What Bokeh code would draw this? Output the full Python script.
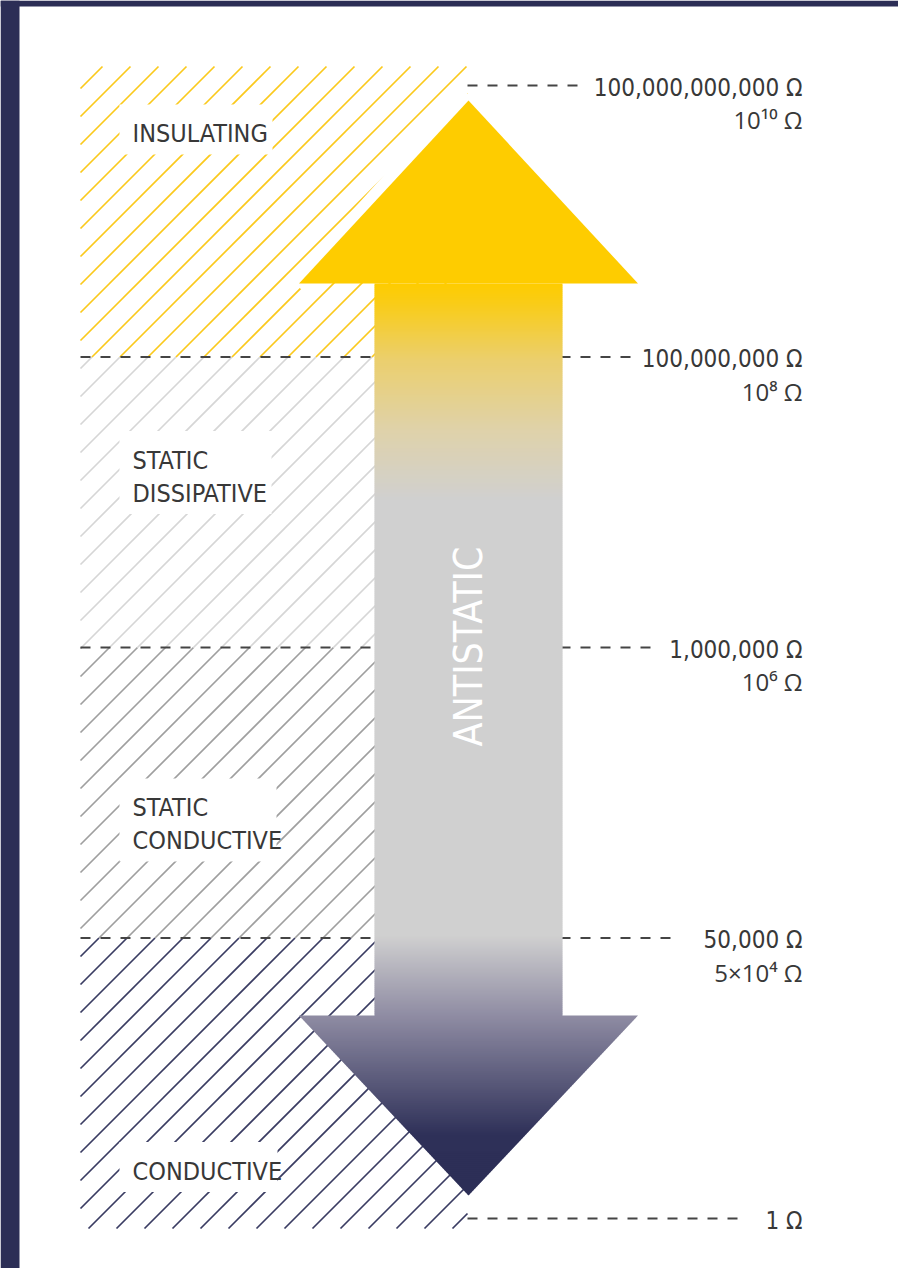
import numpy as np
from bokeh.plotting import figure
from bokeh.models import Range1d
from bokeh.core.properties import value
from bokeh.embed import file_html
from bokeh.resources import INLINE

# ---------------- data ----------------
# resistance bands, bottom to top
band_names = ["CONDUCTIVE", "STATIC CONDUCTIVE", "STATIC DISSIPATIVE", "INSULATING"]
band_label_lines = [["CONDUCTIVE"], ["STATIC", "CONDUCTIVE"], ["STATIC", "DISSIPATIVE"], ["INSULATING"]]
band_colors = ["#3a3c62", "#9f9f9f", "#d6d6d6", "#fbc91c"]
# thresholds, bottom to top
level_index = [0, 1, 2, 3, 4]
ohm_labels = ["1 Ω", "50,000 Ω", "1,000,000 Ω", "100,000,000 Ω", "100,000,000,000 Ω"]
sci_labels = ["", "5×10⁴ Ω", "10⁶ Ω", "10⁸ Ω", "10¹⁰ Ω"]
arrow_label = "ANTISTATIC"

# ---------------- layout (page pixels) ----------------
W, H = 898, 1268
BASE, BAND_H = 1228, 290.5
X0, X1 = 80, 467
HATCH_STEP = 28
NAVY = "#2c2e56"
TXT = "#383838"
NARROW = "DejaVu Sans Condensed, Liberation Sans Narrow, Roboto Condensed, Roboto, sans-serif"
TSHIFT = -9   # renderer places alphabetic baseline slightly low

p = figure(width=W, height=H, x_range=Range1d(0, W), y_range=Range1d(H, 0),
           output_backend="svg", toolbar_location=None, min_border=0,
           background_fill_color="white", border_fill_color="white", outline_line_color=None)
p.axis.visible = False
p.xgrid.visible = False
p.ygrid.visible = False

# navy frame strips (left and top)
p.quad(left=[0], right=[19], top=[0], bottom=[H], fill_color=NAVY, line_color=None)
p.quad(left=[0], right=[W], top=[0], bottom=[6], fill_color=NAVY, line_color=None)


def band_top(i):
    return BASE - BAND_H * (i + 1)


def band_bot(i):
    return BASE - BAND_H * i


# hatch lines (x + y = c in page coords)
for i, col in enumerate(band_colors):
    t, b = band_top(i), band_bot(i)
    x0s, y0s, x1s, y1s = [], [], [], []
    c = (X0 + t) - ((X0 + t) % HATCH_STEP)
    while c <= X1 + b:
        xs = max(X0, c - b)
        xe = min(X1, c - t)
        if xs < xe:
            x0s.append(xs); y0s.append(c - xs); x1s.append(xe); y1s.append(c - xe)
        c += HATCH_STEP
    p.segment(x0=x0s, y0=y0s, x1=x1s, y1=y1s, line_color=col, line_width=1.7)

# band labels with white boxes
label_first_base = [242, 169, 112, 76]
box_right = [277, 276, 271, 272]
LINE_GAP = 33
for i, lines in enumerate(band_label_lines):
    b1 = band_top(i) + label_first_base[i]
    blast = b1 + LINE_GAP * (len(lines) - 1)
    p.quad(left=[119], right=[box_right[i]], top=[b1 - 38], bottom=[blast + 12],
           fill_color="white", line_color=None)
    p.text(x=[132] * len(lines), y=[b1 + LINE_GAP * k + TSHIFT for k in range(len(lines))], text=lines,
           text_font=value(NARROW), text_font_size="25px", text_color=TXT,
           text_align="left", text_baseline="alphabetic")


# threshold dashed lines and labels
def level_y(i):
    if i == 0:
        return BASE - 10
    if i == 4:
        return band_top(3) + 19
    return band_bot(i)


dash_start = [X1, X0, X0, X0, X1]
dash_end = [745, 675, 657, 630, 585]
for i in level_index:
    y = level_y(i)
    p.line([dash_start[i], dash_end[i]], [y, y], line_color="#444444", line_width=2.2, line_dash="10 10")

# ---------------- arrow ----------------
CX = 468
TIP_T, BASE_T, BASE_B, TIP_B = 100, 283, 1015, 1195
HEAD_HALF, SHAFT_HALF = 169.5, 94

# white gap along the upper head edge
p.line([CX - HEAD_HALF - 2, CX], [BASE_T + 2, TIP_T - 6], line_color="white", line_width=18)

YEL = "#fecc00"
p.patch([CX, CX + HEAD_HALF, CX - HEAD_HALF], [TIP_T, BASE_T, BASE_T], fill_color=YEL, line_color=None)

stops = [(283, "#fecc00"), (302, "#f9cc16"), (360, "#ebcf6e"), (430, "#dfd2aa"), (500, "#d0d0d0"),
         (935, "#d0d0d0"), (1015, "#8f8ca3"), (1135, "#2e3058"), (1195, "#2c2e56")]
sy = np.array([s[0] for s in stops], float)
srgb = np.array([[int(s[1][k:k + 2], 16) for k in (1, 3, 5)] for s in stops], float)


def col_at(y):
    r = [np.interp(y, sy, srgb[:, k]) for k in range(3)]
    return "#%02x%02x%02x" % tuple(int(round(v)) for v in r)


def half_bot(y):
    return HEAD_HALF * (TIP_B - y) / (TIP_B - BASE_B)


xs_list, ys_list, cols = [], [], []
STEP = 2
for y0 in range(BASE_T, BASE_B, STEP):
    y1 = y0 + STEP + 0.8
    xs_list.append([CX - SHAFT_HALF, CX + SHAFT_HALF, CX + SHAFT_HALF, CX - SHAFT_HALF])
    ys_list.append([y0, y0, y1, y1])
    cols.append(col_at(y0 + STEP / 2))
for y0 in range(BASE_B, TIP_B, STEP):
    y1 = min(y0 + STEP + 0.8, TIP_B)
    h0, h1 = half_bot(y0), half_bot(y1)
    xs_list.append([CX - h0, CX + h0, CX + h1, CX - h1])
    ys_list.append([y0, y0, y1, y1])
    cols.append(col_at(y0 + STEP / 2))
p.patches(xs=xs_list, ys=ys_list, fill_color=cols, line_color=None)

p.text(x=[CX], y=[646], text=[arrow_label], angle=np.pi / 2,
       text_font=value(NARROW), text_font_size="39px", text_color="white",
       text_align="center", text_baseline="middle")

# right-hand labels
RX = 802
p.text(x=[RX] * 5, y=[level_y(i) + 11 + TSHIFT for i in level_index], text=ohm_labels,
       text_font=value(NARROW), text_font_size="24px", text_color=TXT,
       text_align="right", text_baseline="alphabetic")
p.text(x=[RX] * 4, y=[level_y(i) + 43 + TSHIFT for i in level_index[1:]], text=sci_labels[1:],
       text_font=value("Open Sans"), text_font_size="24px", text_color=TXT,
       text_align="right", text_baseline="alphabetic")

open("out.html", "w").write(file_html(p, INLINE))
